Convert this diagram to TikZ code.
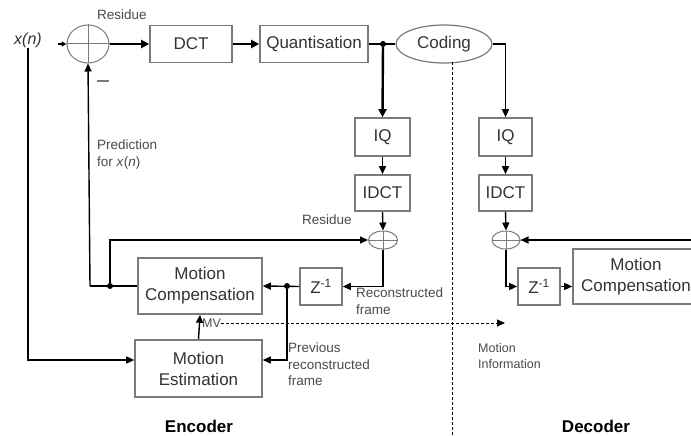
\documentclass[tikz,border=0pt]{standalone}
\usepackage{fontspec}
\setmainfont{Liberation Sans}
\usetikzlibrary{arrows.meta,shapes.geometric,calc}
\definecolor{boxgray}{HTML}{7A7A7A}
\definecolor{txt}{HTML}{333333}
\definecolor{lbl}{HTML}{4A4A4A}
\tikzset{
  box/.style={draw=boxgray, line width=1.6pt, fill=white, align=center, inner sep=0pt,
    font=\fontsize{17}{21}\selectfont, text=txt},
  sumnode/.style={ellipse, draw=boxgray, line width=1pt, inner sep=0pt},
  flow/.style={line width=1.4pt, -{Triangle[length=8pt,width=7pt]}},
  heavyflow/.style={line width=2.4pt, -{Triangle[length=8pt,width=8pt]}},
  wire/.style={line width=1.4pt},
  junction/.style={circle, fill=black, inner sep=0pt, minimum size=6pt},
  lab/.style={font=\fontsize{13.5}{16.5}\selectfont, text=lbl, align=left, inner sep=0pt},
  title/.style={font=\fontsize{17}{20}\selectfont\bfseries, text=black, inner sep=0pt},
}
\begin{document}
\begin{tikzpicture}[x=1pt, y=-1pt]
\useasboundingbox (0,0) rectangle (691,436);

% ---------------- encoder forward path
\node[sumnode, minimum width=42pt, minimum height=38pt] (sum1) at (88,44) {};
\draw[boxgray, line width=1pt] (sum1.north) -- (sum1.south);
\node[box, minimum width=82pt, minimum height=37pt] (dct) at (191,44) {DCT};
\node[box, minimum width=108pt, minimum height=37pt] (quant) at (314,44) {Quantisation};
\node[ellipse, draw=boxgray, line width=1.2pt, minimum width=96pt, minimum height=38pt,
      inner sep=0pt, font=\fontsize{17}{19}\selectfont, text=txt] (coding) at (444,44) {Coding};
\node[junction] (qd) at (383,44) {};

\node[font=\fontsize{16}{19}\selectfont\itshape, text=txt, inner sep=0pt] (xn) at (28,40) {x(n)};
\coordinate (in1) at (58,44);
\node[lab] (res1) at (122,15) {Residue};
\node[fill=boxgray, minimum width=12pt, minimum height=2pt, inner sep=0pt] (minus) at (103,81) {};

% ---------------- encoder reconstruction loop
\node[box, minimum width=55pt, minimum height=38pt] (iqE) at (382.5,137) {IQ};
\node[box, minimum width=55pt, minimum height=36pt] (idctE) at (382.5,193) {IDCT};
\node[sumnode, minimum width=29pt, minimum height=18pt] (sum2) at (383,240) {};
\draw[boxgray, line width=0.8pt] (sum2.north) -- (sum2.south) (sum2.west) -- (sum2.east);
\node[lab, anchor=center] (res2) at (327,220) {Residue};

\node[box, minimum width=124pt, minimum height=56pt] (mcE) at (200,286) {Motion\\Compensation};
\node[box, minimum width=42pt, minimum height=37pt] (zE) at (321,286.5) {Z\textsuperscript{-1}};
\node[box, minimum width=127pt, minimum height=57pt] (meE) at (198.5,368.5) {Motion\\Estimation};

\node[junction] (pd) at (287,286) {};
\node[junction] (fd) at (110,286) {};
\coordinate (pj) at (90,286);

\node[lab, anchor=north west] (pred) at (97,140) {Prediction\\for \textit{x}(\textit{n})};
\node[lab, anchor=north west] (recf) at (356,288) {Reconstructed\\frame};
\node[lab, anchor=north west] (prevf) at (288,343) {Previous\\reconstructed\\frame};
\node[lab, anchor=west, font=\fontsize{12.5}{14}\selectfont] (mv) at (202,323) {MV};
\coordinate (mvend) at (505,323);
\node[lab, anchor=north west, font=\fontsize{12.5}{16}\selectfont] (minfo) at (478,343) {Motion\\Information};

% ---------------- decoder
\node[box, minimum width=53pt, minimum height=38pt] (iqD) at (505.5,137) {IQ};
\node[box, minimum width=53pt, minimum height=36pt] (idctD) at (505.5,193) {IDCT};
\node[sumnode, minimum width=28pt, minimum height=18pt] (sum3) at (506,240) {};
\draw[boxgray, line width=0.8pt] (sum3.north) -- (sum3.south) (sum3.west) -- (sum3.east);
\node[box, minimum width=42pt, minimum height=37pt] (zD) at (539,286.5) {Z\textsuperscript{-1}};
\node[box, minimum width=126pt, minimum height=55pt] (mcD) at (636,276.5) {Motion\\Compensation};
\coordinate (rin) at (700,240);

\node[title] (enc) at (199,426) {Encoder};
\node[title] (dec) at (596,426) {Decoder};

% ---------------- connectors
\draw[wire, -{Triangle[length=5pt,width=5pt]}] (in1) -- (sum1.west);
\draw[boxgray, line width=1pt] (sum1.west) -- (sum1.east);
\draw[heavyflow] (sum1.east) -- (dct.west);
\draw[heavyflow] (dct.east) -- (quant.west);
\draw[wire] (quant.east) -- (coding.west);
\draw[heavyflow] (qd) -- (iqE.north);
\draw[flow] (iqE.south) -- (idctE.north);
\draw[flow] (idctE.south) -- (sum2.north);
\draw[flow] (sum2.south) |- (zE.east);
\draw[flow] (zE.west) -- (mcE.east);
\draw[flow] (pd) |- ($(meE.east)+(0,-8.5)$);
\draw[flow] (pj) -- (sum1.south);
\draw[wire] (pj) -- (mcE.west);
\draw[flow] (fd) |- (sum2.west);
\draw[flow] (xn.south) |- ($(meE.west)+(0,-8.5)$);
\draw[flow] (meE.north) -- (mcE.south);
\draw[line width=1pt, dash pattern=on 3pt off 2pt, -{Triangle[length=8pt,width=7pt]}] (mv.east) -- (mvend);
\draw[line width=1pt, dash pattern=on 3pt off 2pt] (452,62) -- (452,436);

\draw[flow] (coding.east) -| (iqD.north);
\draw[flow] (iqD.south) -- (idctD.north);
\draw[flow] (idctD.south) -- (sum3.north);
\draw[flow] (sum3.south) |- (zD.west);
\draw[flow] (zD.east) -- (mcD.west |- zD.east);
\draw[flow] (rin) -- (sum3.east);
\end{tikzpicture}
\end{document}
